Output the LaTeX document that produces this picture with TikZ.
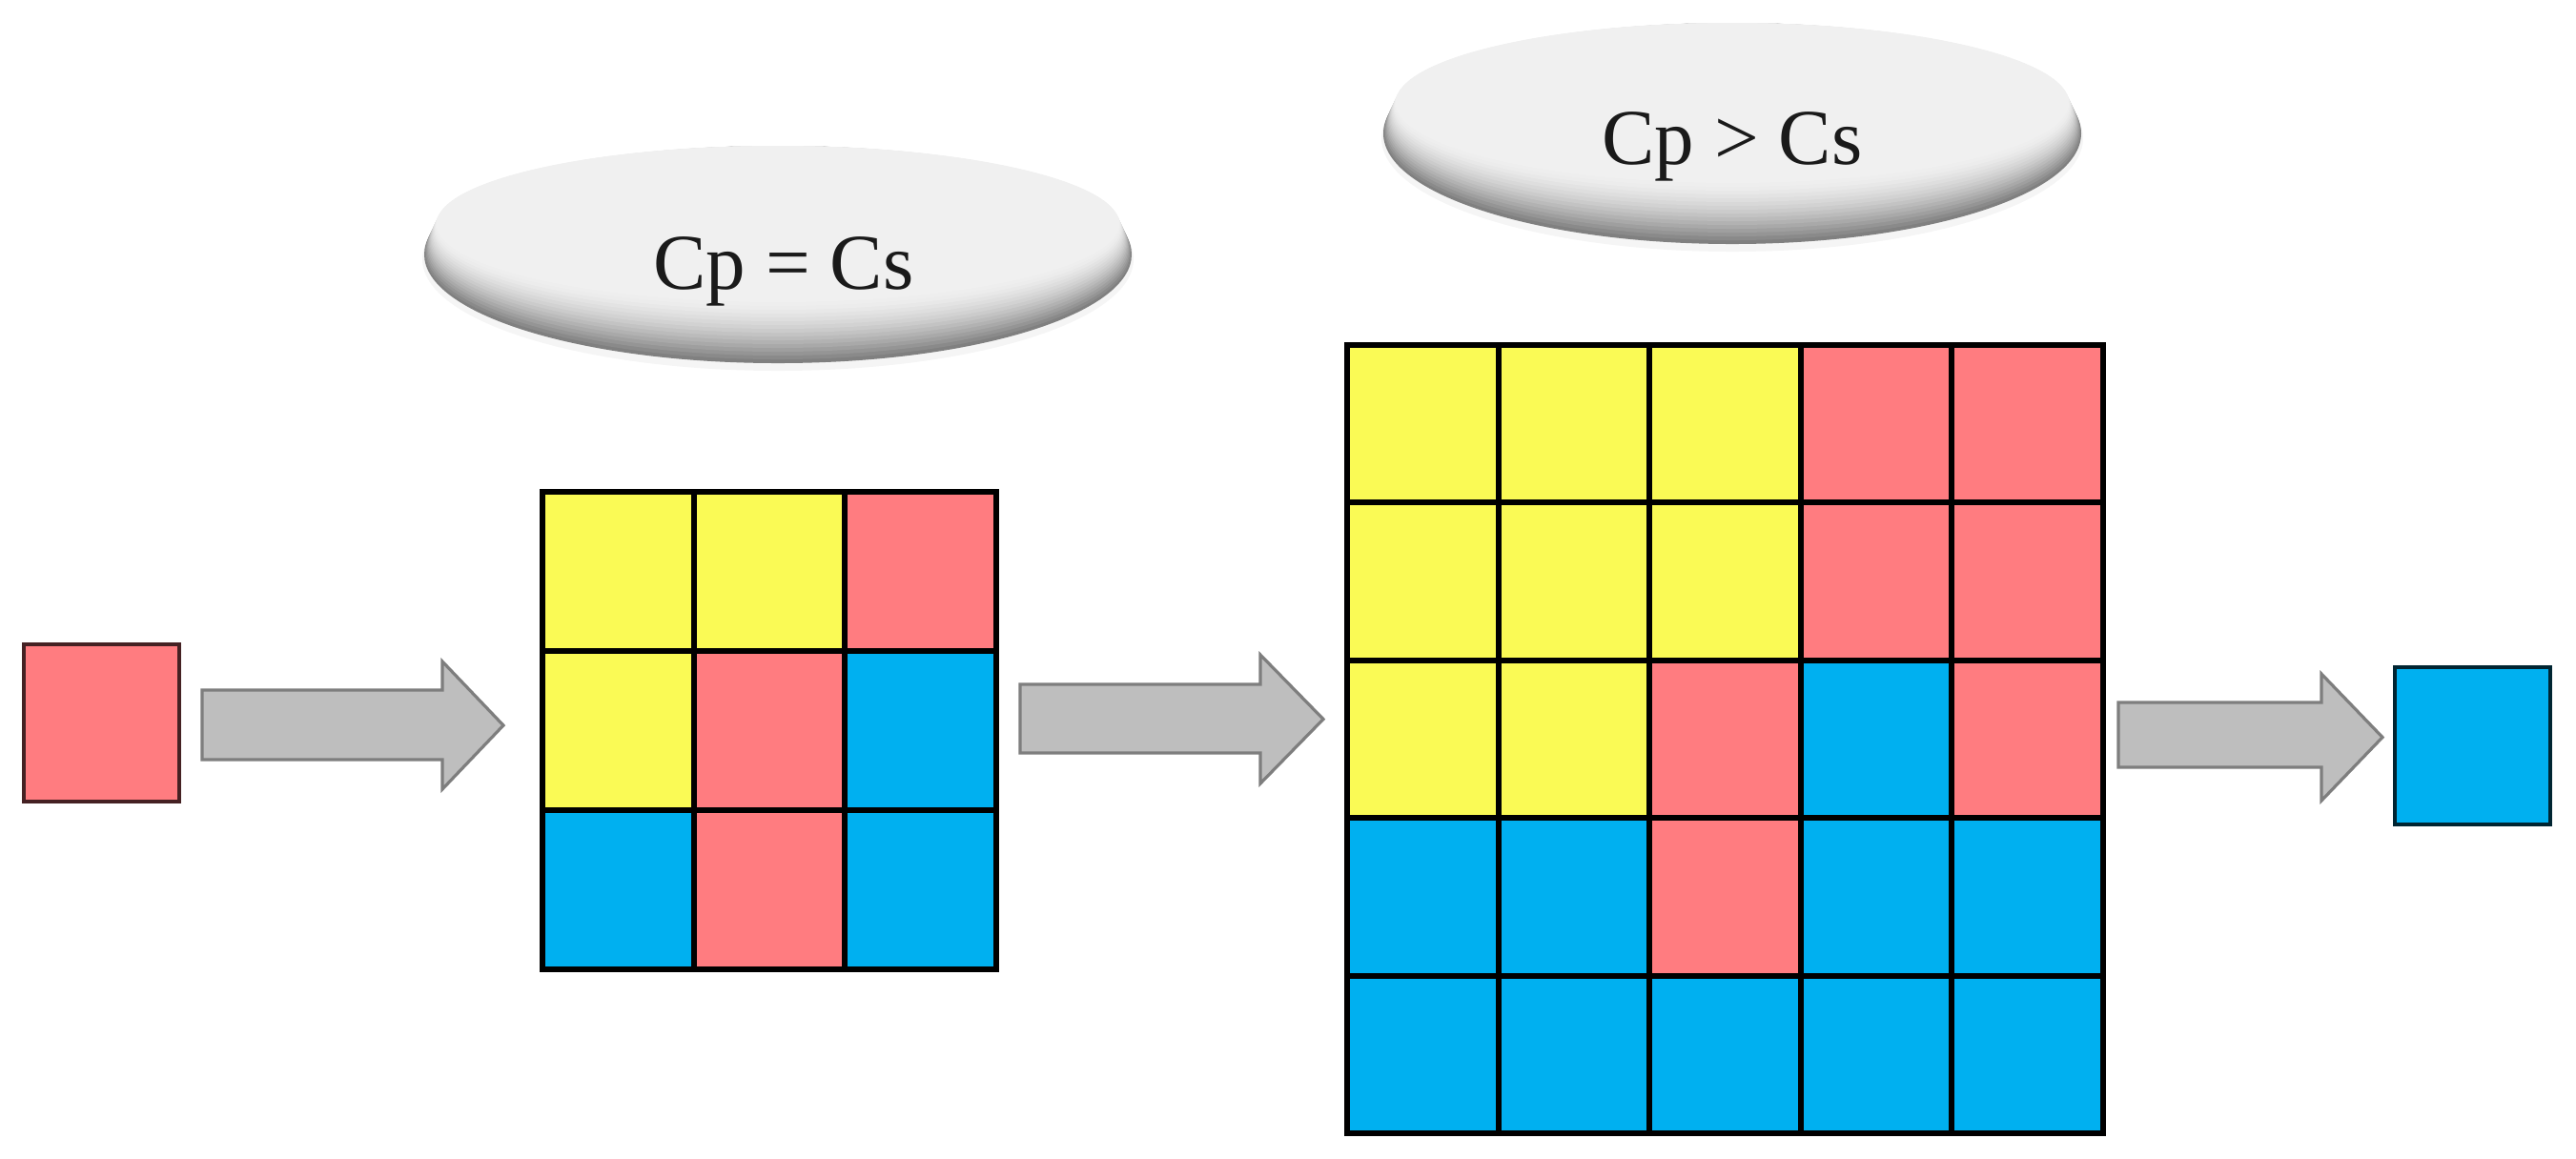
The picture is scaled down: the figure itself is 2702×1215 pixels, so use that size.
\documentclass[tikz,border=0pt]{standalone}
\usepackage{fontspec}
\setmainfont{Liberation Serif}
\definecolor{cred}{HTML}{FF7C80}
\definecolor{cyel}{HTML}{FAFA55}
\definecolor{cblu}{HTML}{00B0F0}
\definecolor{arrfill}{HTML}{BEBEBE}
\definecolor{arrline}{HTML}{7E7E7E}
\definecolor{txt}{HTML}{1A1A1A}
\tikzset{
  cellbox/.style={draw=black, line width=1.5pt, inner sep=0pt, outer sep=0pt},
  smallsq/.style={line width=1pt, inner sep=0pt, outer sep=0pt, minimum width=40.75pt, minimum height=41.25pt},
  blockarr/.style={fill=arrfill, draw=arrline, line width=0.8pt, line join=miter},
  lbl/.style={font=\fontsize{20.75}{24}\selectfont, text=txt, anchor=base, inner sep=0pt}
}
% pill: cx, cy, rx, ry
\newcommand\mypill[4]{%
  \fill[black!4] (#1,#2+5) ellipse [x radius=#3+2, y radius=#4+3];
  \foreach \k in {0,...,16}{%
    \pgfmathsetmacro\pct{6+44*(1-\k/16)^1.6}%
    \pgfmathsetmacro\cyk{#2-2*\k}%
    \pgfmathsetmacro\ryk{#4-2*\k}%
    \pgfmathsetmacro\rxk{#3-0.8*\k}%
    \fill[black!\pct!white] (#1,\cyk) ellipse [x radius=\rxk, y radius=\ryk];
  }%
}
% block arrow: name, x0, x1, x2, shaft top, shaft bottom, head top, head bottom
\newcommand\myblockarrow[8]{%
  \coordinate (#1-s) at (#2,{(#5+#6)/2});
  \coordinate (#1-t) at (#4,{(#7+#8)/2});
  \draw[blockarr] (#2,#5) -- (#3,#5) -- (#3,#7) -- (#1-t) -- (#3,#8) -- (#3,#6) -- (#2,#6) -- cycle;
}
\begin{document}
\begin{tikzpicture}[x=0.25pt, y=-0.25pt]
\useasboundingbox (0,0) rectangle (2702,1215);

% ellipses with labels
\mypill{816}{267}{371}{114}
\node[lbl] (eq) at (822,303) {Cp = Cs};
\mypill{1817}{140}{366}{116}
\node[lbl] (gt) at (1817,172) {Cp > Cs};

% left red square
\node[smallsq, fill=cred, draw=black!55!cred!60!black] (inp) at (106.5,758.5) {};
% right blue square
\node[smallsq, fill=cblu, draw=black!70!cblu!70!black] (outp) at (2593,782) {};

% 3x3 grid
\foreach \r/\c/\col in {1/1/cyel,1/2/cyel,1/3/cred,
                        2/1/cyel,2/2/cred,2/3/cblu,
                        3/1/cblu,3/2/cred,3/3/cblu}{
  \node[cellbox, fill=\col, minimum width=39.67pt, minimum height=41.75pt]
    (ga-\r-\c) at ({569+(\c-0.5)*158.67},{516+(\r-0.5)*167}) {};
}
\draw[line width=1.5pt] (ga-1-1.north west) rectangle (ga-3-3.south east);

% 5x5 grid
\foreach \r/\c/\col in {1/1/cyel,1/2/cyel,1/3/cyel,1/4/cred,1/5/cred,
                        2/1/cyel,2/2/cyel,2/3/cyel,2/4/cred,2/5/cred,
                        3/1/cyel,3/2/cyel,3/3/cred,3/4/cblu,3/5/cred,
                        4/1/cblu,4/2/cblu,4/3/cred,4/4/cblu,4/5/cblu,
                        5/1/cblu,5/2/cblu,5/3/cblu,5/4/cblu,5/5/cblu}{
  \node[cellbox, fill=\col, minimum width=39.65pt, minimum height=41.35pt]
    (gb-\r-\c) at ({1413+(\c-0.5)*158.6},{362+(\r-0.5)*165.4}) {};
}
\draw[line width=1.5pt] (gb-1-1.north west) rectangle (gb-5-5.south east);

% block arrows
\myblockarrow{a1}{212}{464}{528}{724}{797}{694}{828}
\myblockarrow{a2}{1070}{1322}{1388}{718}{790}{687}{822}
\myblockarrow{a3}{2222}{2435}{2499}{737}{805}{707}{840}
\end{tikzpicture}
\end{document}
